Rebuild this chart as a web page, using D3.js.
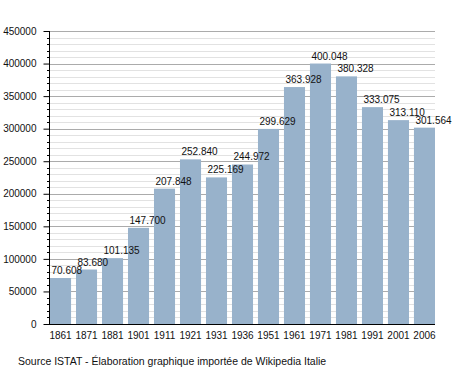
<!DOCTYPE html>
<html lang="fr">
<head>
    <meta charset="UTF-8">
    <title>Population</title>
    <style>
        body { margin: 0; background: #fff; }
        text { font-family: "Liberation Sans", Arial, sans-serif; }
    </style>
</head>
<body>
    <svg width="464" height="373"></svg>
    <script src="https://d3js.org/d3.v7.min.js"></script>
    <script>
        var years = ['1861', '1871', '1881', '1901', '1911', '1921', '1931', '1936', '1951', '1961', '1971', '1981', '1991', '2001', '2006']
        var population = [70608, 83680, 101135, 147700, 207848, 252840, 225169, 244972, 299629, 363928, 400048, 380328, 333075, 313110, 301564]
        var yTicks = [0, 50000, 100000, 150000, 200000, 250000, 300000, 350000, 400000, 450000]

        var svg = d3.select('svg')
        var plotL = 49, plotR = 435, plotT = 31, plotB = 324
        var font = '"Liberation Sans", Arial, sans-serif'

        var x = d3.scaleBand()
            .domain(years)
            .range([plotL + 1, plotR])
            .paddingInner(0.19)
            .paddingOuter(0)
        var y = d3.scaleLinear()
            .domain([0, 450000])
            .range([plotB, plotT])

        var minor = d3.range(0, 450001, 10000).filter(v => v % 50000 != 0)

        // minor grid
        svg.append('g')
            .selectAll('line')
            .data(minor)
            .enter()
            .append('line')
            .attr('x1', plotL).attr('x2', plotR)
            .attr('y1', d => Math.round(y(d)) + 0.5)
            .attr('y2', d => Math.round(y(d)) + 0.5)
            .attr('stroke', '#e2e2e2')

        // major grid
        svg.append('g')
            .selectAll('line')
            .data(yTicks.slice(1))
            .enter()
            .append('line')
            .attr('x1', plotL).attr('x2', plotR)
            .attr('y1', d => Math.round(y(d)) + 0.5)
            .attr('y2', d => Math.round(y(d)) + 0.5)
            .attr('stroke', '#ababab')

        // bars
        svg.append('g')
            .selectAll('rect')
            .data(population)
            .enter()
            .append('rect')
            .attr('x', (d, i) => x(years[i]))
            .attr('width', x.bandwidth())
            .attr('y', d => y(d))
            .attr('height', d => plotB - y(d))
            .attr('fill', '#98b2cb')

        // value labels
        var fmt = d3.formatLocale({decimal: ',', thousands: '.', grouping: [3], currency: ['', '']}).format(',')
        svg.append('g')
            .selectAll('text')
            .data(population)
            .enter()
            .append('text')
            .attr('x', (d, i) => x(years[i]) + 1.5)
            .attr('y', d => y(d) - 4)
            .attr('font-size', 10)
            .attr('fill', '#111')
            .text(d => fmt(d))

        // y axis
        var yAxis = d3.axisLeft(y)
            .tickValues(yTicks)
            .tickFormat(d3.format('d'))
            .tickSize(6)
            .tickPadding(7)
        var gy = svg.append('g')
            .attr('transform', 'translate(' + (plotL + 0.5) + ',0)')
            .call(yAxis)
        gy.selectAll('text').attr('font-size', 10).attr('fill', '#111').attr('font-family', font)
        gy.select('.domain').attr('d', 'M0,' + plotT + 'V' + plotB).attr('stroke', '#000')

        // minor ticks on y axis
        svg.append('g')
            .selectAll('line')
            .data(minor)
            .enter()
            .append('line')
            .attr('x1', plotL - 2).attr('x2', plotL + 0.5)
            .attr('y1', d => Math.round(y(d)) + 0.5)
            .attr('y2', d => Math.round(y(d)) + 0.5)
            .attr('stroke', '#000')

        // x axis
        var xAxis = d3.axisBottom(x).tickSize(0).tickPadding(4)
        var gx = svg.append('g')
            .attr('transform', 'translate(0,' + (plotB + 0.5) + ')')
            .call(xAxis)
        gx.selectAll('text').attr('font-size', 10).attr('fill', '#111').attr('font-family', font)
            .attr('dy', '1em')
        gx.select('.domain').attr('d', 'M' + plotL + ',0H' + plotR).attr('stroke', '#000')

        svg.append('text')
            .attr('x', 18)
            .attr('y', 365)
            .attr('font-size', 10.5)
            .attr('fill', '#111')
            .text('Source ISTAT - Élaboration graphique importée de Wikipedia Italie')
    </script>
</body>
</html>
